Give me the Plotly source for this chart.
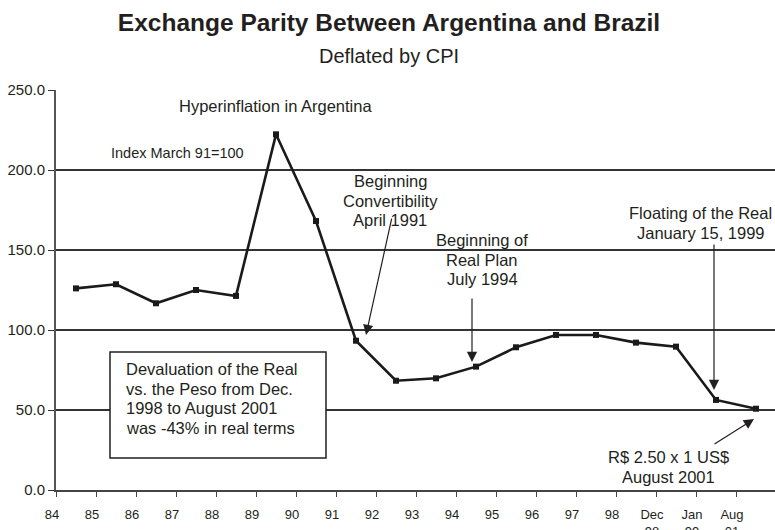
import plotly.graph_objects as go

# ---- data ----
tick_labels = ["84", "85", "86", "87", "88", "89", "90", "91", "92", "93", "94",
               "95", "96", "97", "98", "Dec<br>98", "Jan<br>99", "Aug<br>01"]
parity_index = [126.0, 128.6, 116.7, 125.0, 121.3, 222.3, 168.1, 93.3, 68.3,
                69.8, 77.1, 89.2, 96.9, 96.9, 92.1, 89.6, 56.3, 50.8]
y_ticks = [0, 50, 100, 150, 200, 250]

# points sit in the middle of each period; labels at period boundaries
x_pos = [i + 0.5 for i in range(len(parity_index))]
tick_pos = list(range(len(tick_labels)))

INK = "#231f20"
FONT = "Liberation Sans, Arial, sans-serif"

fig = go.Figure()
fig.add_trace(go.Scatter(
    x=x_pos, y=parity_index, mode="lines+markers",
    line=dict(color="#1a1a1a", width=2.6),
    marker=dict(symbol="square", size=6, color="#1a1a1a"),
    hoverinfo="y", showlegend=False,
))

annotations = []
LINE = 12.2  # line spacing in y-data units (~19.5 px)

def txt(x, y, lines, size=16.5, xanchor="center"):
    for i, line in enumerate(lines):
        annotations.append(dict(x=x, y=y - i * LINE, xref="x", yref="y", text=line,
                                showarrow=False,
                                font=dict(family=FONT, size=size, color=INK),
                                xanchor=xanchor, yanchor="middle"))

def arrow(x, y, ax, ay):
    annotations.append(dict(x=x, y=y, ax=ax, ay=ay, xref="x", yref="y",
                            axref="x", ayref="y", text="", showarrow=True,
                            arrowhead=2, arrowsize=1.7, arrowwidth=1.2,
                            arrowcolor=INK, standoff=0, startstandoff=0))

txt(5.49, 240, ["Hyperinflation in Argentina"])
txt(1.325, 210.6, ["Index March 91=100"], size=14.5, xanchor="left")
txt(8.355, 193.1, ["Beginning", "Convertibility", "April 1991"])
arrow(7.75, 96.9, 8.4, 170.6)
txt(10.66, 156.25, ["Beginning of", "Real Plan", "July 1994"])
arrow(10.4, 80, 10.4, 120.6)
txt(16.12, 173.1, ["Floating of the Real", "January 15, 1999"])
arrow(16.45, 62.5, 16.45, 154.4)
txt(15.3, 20.6, ["R$ 2.50 x 1 US$", "August 2001"])
arrow(17.45, 44.4, 16.425, 28.1)

# text box
fig.add_shape(type="rect", xref="x", yref="y", x0=1.35, x1=6.75, y0=20, y1=86.25,
              fillcolor="white", line=dict(color=INK, width=1.5), layer="above")
txt(1.7, 75.6, ["Devaluation of the Real", "vs. the Peso from Dec.",
                "1998 to August 2001", "was -43% in real terms"], xanchor="left")

annotations.append(dict(
    x=0.4632, y=1.085, xref="paper", yref="paper", text="Deflated by CPI",
    showarrow=False, xanchor="center", yanchor="middle",
    font=dict(family=FONT, size=20, color=INK),
))

fig.update_layout(
    width=775, height=530,
    margin=dict(l=56, r=0, t=90, b=40),
    paper_bgcolor="white", plot_bgcolor="white",
    title=dict(text="<b>Exchange Parity Between Argentina and Brazil</b>",
               x=389 / 775, xref="container", xanchor="center",
               y=1 - 22 / 530, yref="container", yanchor="middle",
               font=dict(family=FONT, size=24.5, color=INK)),
    font=dict(family=FONT, color=INK),
    annotations=annotations,
    xaxis=dict(range=[0, 17.975], tickvals=tick_pos, ticktext=tick_labels,
               automargin=False,
               showgrid=False, zeroline=False, showline=True, linecolor="#444",
               linewidth=1.5, ticks="outside", ticklen=5, tickcolor="#444",
               tickfont=dict(family=FONT, size=13, color=INK),
               ticklabelshift=-4, ticklabelstandoff=7),
    yaxis=dict(range=[0, 250], tickvals=y_ticks, tickformat=".1f",
               automargin=False,
               showgrid=True, gridcolor="#333", gridwidth=1.5, zeroline=False,
               showline=True, linecolor="#555", linewidth=2,
               ticks="outside", ticklen=6, tickcolor="#333",
               tickfont=dict(family=FONT, size=15, color=INK)),
)

fig.write_html("out.html", config={"displayModeBar": False},
               post_script="document.body.style.margin='0px';")
